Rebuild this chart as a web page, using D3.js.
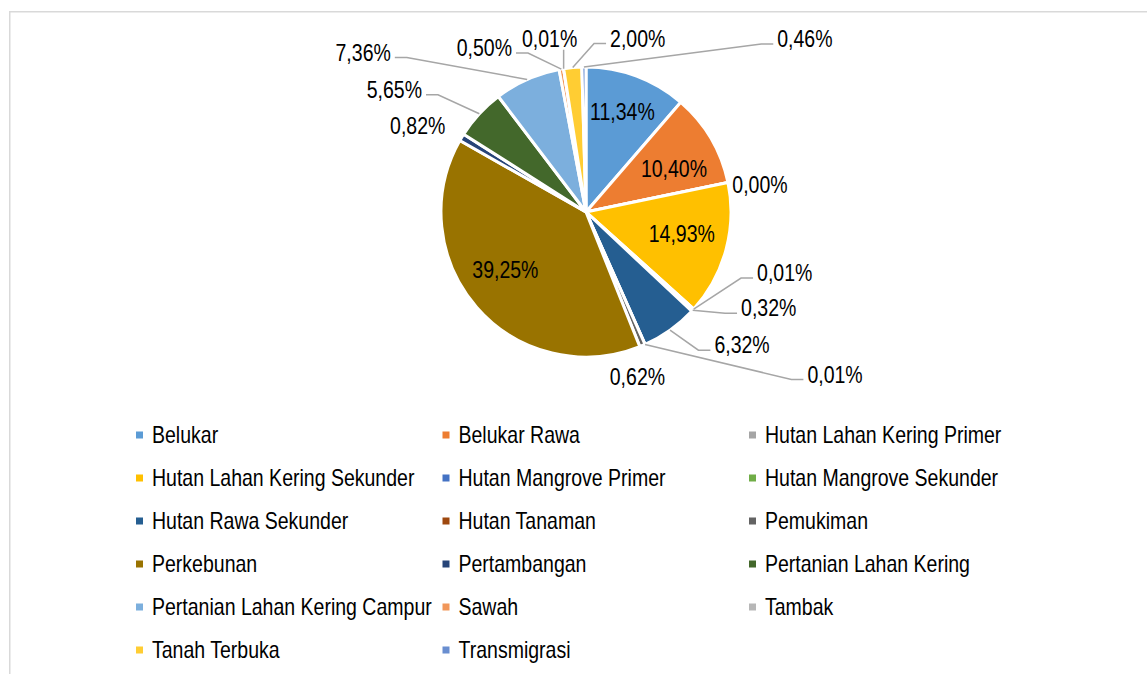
<!DOCTYPE html>
<html lang="en">
<head>
    <meta charset="UTF-8">
    <title>Tutupan Lahan</title>
    <style>
        body { margin: 0; background: #fff; }
        text { fill: #000; }
    </style>
    <script src="https://d3js.org/d3.v7.min.js"></script>
</head>
<body>
<svg></svg>
<script>
    // data
    const categories = [
        "Belukar", "Belukar Rawa", "Hutan Lahan Kering Primer",
        "Hutan Lahan Kering Sekunder", "Hutan Mangrove Primer", "Hutan Mangrove Sekunder",
        "Hutan Rawa Sekunder", "Hutan Tanaman", "Pemukiman",
        "Perkebunan", "Pertambangan", "Pertanian Lahan Kering",
        "Pertanian Lahan Kering Campur", "Sawah", "Tambak",
        "Tanah Terbuka", "Transmigrasi"
    ];
    const values = [11.34, 10.40, 0.00, 14.93, 0.01, 0.32, 6.32, 0.01, 0.62,
                    39.25, 0.82, 5.65, 7.36, 0.50, 0.01, 2.00, 0.46];
    const colors = ["#5B9BD5", "#ED7D31", "#A5A5A5", "#FFC000", "#4472C4", "#70AD47",
                    "#255E91", "#9E480E", "#636363", "#997300", "#264478", "#43682B",
                    "#7CAFDD", "#F1975A", "#B7B7B7", "#FFCD33", "#698ED0"];

    // label layout (Excel "best fit" placement, nudged by hand)
    const labelInside = [true, true, false, true, false, false, false, false, false,
                         true, false, false, false, false, false, false, false];
    const labelNudge = [[0, -2], [-2, 10], [32, 2.5], [-5, -5], [91, -36], [76, -2],
                        [72, 15], [190, 30], [-5, 31], [-2, -11], [-44, -12], [-85, -24],
                        [-164, -27], [-77, -21], [-14, -30], [65, -29], [221, -28]];
    const hasLeader = [false, false, false, false, true, true, true, true, false,
                       false, false, true, true, true, true, true, true];

    const width = 1147, height = 674;
    const cx = 586, cy = 212, R = 145;
    const fontSize = 23.8;

    function fontAvailable(name) {
        const ctx = document.createElement("canvas").getContext("2d");
        const s = "Hutan Lahan Kering 0,00%";
        ctx.font = "40px monospace";
        const w0 = ctx.measureText(s).width;
        ctx.font = `40px "${name}", monospace`;
        return ctx.measureText(s).width !== w0;
    }
    const narrow = fontAvailable("Liberation Sans Narrow");
    const family = narrow ? "'Liberation Sans Narrow', 'Arial Narrow', sans-serif"
                          : "'Liberation Sans', Arial, sans-serif";
    const sx = narrow ? 1 : 0.82;

    const svg = d3.select("svg").attr("width", width).attr("height", height);

    svg.append("rect")
        .attr("x", 9.75).attr("y", 11.75)
        .attr("width", 1300).attr("height", 800)
        .attr("fill", "#fff")
        .attr("stroke", "#D9D9D9").attr("stroke-width", 1.5);

    function addText(parent, x, y, str, anchor) {
        const g = parent.append("g")
            .attr("transform", `translate(${x},${y}) scale(${sx},1)`);
        const t = g.append("text")
            .attr("text-anchor", anchor)
            .attr("dominant-baseline", "central")
            .style("font-family", family)
            .style("font-size", fontSize + "px")
            .text(str);
        return t.node().getComputedTextLength() * sx;
    }

    const fmt = v => d3.format(".2f")(v).replace(".", ",") + "%";

    const data = categories.map((c, i) => ({ name: c, value: values[i], i: i }));
    const pie = d3.pie().sort(null).value(d => d.value);
    const arcs = pie(data);
    const arc = d3.arc().innerRadius(0).outerRadius(R);
    const inArc = d3.arc().innerRadius(R * 0.72).outerRadius(R * 0.72);
    const edgeArc = d3.arc().innerRadius(R).outerRadius(R);

    const g = svg.append("g").attr("transform", `translate(${cx},${cy})`);

    g.selectAll("path.slice")
        .data(arcs)
        .enter().append("path")
        .attr("class", "slice")
        .attr("d", arc)
        .attr("fill", d => colors[d.data.i])
        .attr("stroke", "#fff")
        .attr("stroke-width", 3)
        .attr("stroke-linejoin", "round");

    const leaders = g.append("g");
    const labels = g.append("g");

    arcs.forEach(d => {
        const i = d.data.i;
        const base = labelInside[i] ? inArc.centroid(d) : edgeArc.centroid(d);
        const lx = base[0] + labelNudge[i][0];
        const ly = base[1] + labelNudge[i][1];
        const w = addText(labels, lx, ly, fmt(values[i]), "middle");

        if (hasLeader[i]) {
            const e = edgeArc.centroid(d);
            let pts;
            if (Math.abs(lx - e[0]) < w / 2) {
                pts = [[e[0], ly + 11], e];
            } else if (lx > e[0]) {
                const x0 = lx - w / 2 - 4;
                pts = [[x0, ly + 5], [x0 - 12, ly + 5], e];
            } else {
                const x0 = lx + w / 2 + 4;
                pts = [[x0, ly + 5], [x0 + 12, ly + 5], e];
            }
            leaders.append("path")
                .attr("d", d3.line()(pts))
                .attr("fill", "none")
                .attr("stroke", "#A6A6A6")
                .attr("stroke-width", 1.5);
        }
    });

    // legend, 3 columns row-major
    const legendX = d3.scaleOrdinal().domain([0, 1, 2]).range([152, 458.5, 765]);
    const legendY = d3.scaleLinear().domain([0, 1]).range([435, 478]);
    const legend = svg.append("g");
    categories.forEach((c, i) => {
        const x = legendX(i % 3), y = legendY(Math.floor(i / 3));
        legend.append("rect")
            .attr("x", x - 16).attr("y", y - 3.5)
            .attr("width", 7).attr("height", 7)
            .attr("fill", colors[i]);
        addText(legend, x, y, c, "start");
    });
</script>
</body>
</html>
